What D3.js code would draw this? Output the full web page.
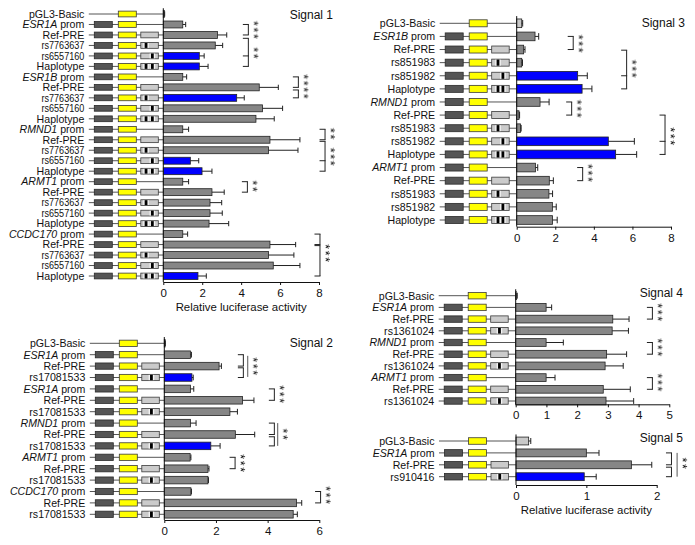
<!DOCTYPE html>
<html><head><meta charset="utf-8">
<script src="https://cdn.jsdelivr.net/npm/d3@7"></script>
<style>
body{margin:0;background:#fff}
svg text{font-family:"Liberation Sans",Arial,Helvetica,sans-serif;fill:#111}
</style>
</head><body>
<svg id="c" width="695" height="545"></svg>
<script>
// ---------------- DATA ----------------
const s1Labels = ["pGL3-Basic","ESR1A prom","Ref-PRE","rs7763637","rs6557160","Haplotype",
  "ESR1B prom","Ref-PRE","rs7763637","rs6557160","Haplotype",
  "RMND1 prom","Ref-PRE","rs7763637","rs6557160","Haplotype",
  "ARMT1 prom","Ref-PRE","rs7763637","rs6557160","Haplotype",
  "CCDC170 prom","Ref-PRE","rs7763637","rs6557160","Haplotype"];
const s1Values = [0.05,1.0,2.78,2.67,1.85,1.85, 1.0,4.93,3.77,5.1,4.76, 1.0,5.48,5.41,1.39,1.99,
  1.0,2.5,2.4,2.4,2.35, 1.0,5.48,5.41,5.65,1.78];
const s1Errors = [0.02,0.15,0.48,0.38,0.25,0.45, 0.2,0.98,0.39,1.03,0.94, 0.3,1.54,1.51,0.43,0.51,
  0.3,0.63,0.6,0.63,1.01, 0.25,1.32,1.3,1.37,0.43];
const s1Colors = ["g","g","g","g","b","b", "g","g","b","g","g", "g","g","g","b","b",
  "g","g","g","g","g", "g","g","g","g","b"];
const s1Ticks = [0,2,4,6,8];

const s2Labels = ["pGL3-Basic","ESR1A prom","Ref-PRE","rs17081533","ESR1A prom","Ref-PRE","rs17081533",
  "RMND1 prom","Ref-PRE","rs17081533","ARMT1 prom","Ref-PRE","rs17081533","CCDC170 prom","Ref-PRE","rs17081533"];
const s2Values = [0.03,1.01,2.12,1.07,1.01,3.03,2.54,1.01,2.75,1.8,1.0,1.69,1.69,1.03,5.12,4.99];
const s2Errors = [0.01,0.04,0.09,0.05,0.13,0.44,0.29,0.22,0.75,0.36,0.03,0.04,0.02,0.02,0.2,0.16];
const s2Colors = ["g","g","g","b","g","g","g","g","g","b","g","g","g","g","g","g"];
const s2Ticks = [0,2,4,6];

const s3Labels = ["pGL3-Basic","ESR1B prom","Ref-PRE","rs851983","rs851982","Haplotype",
  "RMND1 prom","Ref-PRE","rs851983","rs851982","Haplotype",
  "ARMT1 prom","Ref-PRE","rs851983","rs851982","Haplotype"];
const s3Values = [0.26,0.95,0.36,0.26,3.16,3.39,1.21,0.12,0.2,4.75,5.13,0.97,1.69,1.67,1.85,1.86];
const s3Errors = [0.05,0.19,0.07,0.04,0.5,0.51,0.47,0.03,0.03,1.35,1.09,0.12,0.21,0.19,0.2,0.24];
const s3Colors = ["l","g","g","g","b","b","g","g","g","b","b","g","g","g","g","g"];
const s3Ticks = [0,2,4,6,8];

const s4Labels = ["pGL3-Basic","ESR1A prom","Ref-PRE","rs1361024","RMND1 prom","Ref-PRE","rs1361024",
  "ARMT1 prom","Ref-PRE","rs1361024"];
const s4Values = [0.03,0.99,3.16,3.14,0.99,2.96,2.91,0.99,2.85,2.94];
const s4Errors = [0.02,0.18,0.53,0.53,0.56,0.65,0.59,0.29,0.88,0.9];
const s4Colors = ["g","g","g","g","g","g","g","g","g","g"];
const s4Ticks = [0,1,2,3,4,5];

const s5Labels = ["pGL3-Basic","ESR1A prom","Ref-PRE","rs910416"];
const s5Values = [0.18,1.0,1.64,0.97];
const s5Errors = [0.03,0.18,0.29,0.17];
const s5Colors = ["l","g","g","b"];
const s5Ticks = [0,1,2];

// significance brackets: rows [end1, end2, ...middle ticks], at = x value, stars, star row
const s1Sig = [
  {rows:[1,2], at:4.37, stars:3, sr:1.5},
  {rows:[2.32,5,4], at:4.37, stars:2, sr:3.7},
  {rows:[6,7], at:6.94, stars:4, sr:6.9},
  {rows:[7.25,8], at:6.94},
  {rows:[11,12], at:8.31, stars:2, sr:11.4},
  {rows:[12.15,15,14], at:8.31, stars:3, sr:13.6},
  {rows:[16,17], at:4.32, stars:2, sr:16.4},
  {rows:[21,22], at:8.05},
  {rows:[22.1,25], at:8.05, stars:3, sr:22.8}
];
const s2Sig = [
  {rows:[1,2], at:3.06},
  {rows:[2.15,3], at:3.06},
  {rows:[1.1,2.95], at:3.23, line:true, stars:3, sr:2.0},
  {rows:[4,5], at:4.26, stars:3, sr:4.45},
  {rows:[7,8], at:4.26},
  {rows:[8.2,9], at:4.26},
  {rows:[7,9], at:4.39, line:true, stars:2, sr:7.95},
  {rows:[10,11], at:2.74, stars:3, sr:10.5},
  {rows:[13,14], at:6.05, stars:3, sr:13.3}
];
const s3Sig = [
  {rows:[1,2], at:2.93, stars:3, sr:1.54},
  {rows:[2.05,5,4], at:5.7, stars:3, sr:3.45},
  {rows:[6,7], at:2.85, stars:3, sr:6.5},
  {rows:[7,10,9], at:7.69, stars:3, sr:8.6},
  {rows:[11,12], at:3.42, stars:3, sr:11.4}
];
const s4Sig = [
  {rows:[1,2], at:4.45, stars:3, sr:1.4},
  {rows:[4,5], at:4.45, stars:3, sr:4.4},
  {rows:[7,8], at:4.45, stars:3, sr:7.4}
];
const s5Sig = [
  {rows:[1,2], at:2.21},
  {rows:[2.2,3], at:2.21},
  {rows:[1,3], at:2.29, line:true, stars:2, sr:1.85}
];

const snpPos = {rs7763637:0.3, rs6557160:0.66, rs17081533:0.55, rs851983:0.36, rs851982:0.64,
  rs1361024:0.5, rs910416:0.5};

// ---------------- LAYOUT ----------------
const panels = [
  {title:"Signal 1", labels:s1Labels, values:s1Values, errors:s1Errors, colors:s1Colors, ticks:s1Ticks, sig:s1Sig,
   haplo:["rs7763637","rs6557160"], condense:0.89, xlab:true,
   L:{x0:163.3, x1:319, yTop:14, yBot:276, axisY:282, cOff:0, tx:333, ty:19, xlabY:311}},
  {title:"Signal 2", labels:s2Labels, values:s2Values, errors:s2Errors, colors:s2Colors, ticks:s2Ticks, sig:s2Sig,
   haplo:[], xlab:false,
   L:{x0:164.3, x1:319.3, yTop:343.3, yBot:514.3, axisY:520, cOff:0, tx:333, ty:347}},
  {title:"Signal 3", labels:s3Labels, values:s3Values, errors:s3Errors, colors:s3Colors, ticks:s3Ticks, sig:s3Sig,
   haplo:["rs851983","rs851982"], xlab:false,
   L:{x0:516.7, x1:671, yTop:23.3, yBot:220, axisY:226.7, cOff:2.5, tx:685, ty:27}},
  {title:"Signal 4", labels:s4Labels, values:s4Values, errors:s4Errors, colors:s4Colors, ticks:s4Ticks, sig:s4Sig,
   haplo:[], xlab:false,
   L:{x0:515.7, x1:669.3, yTop:295.7, yBot:401, axisY:404.3, cOff:2.5, tx:683, ty:297}},
  {title:"Signal 5", labels:s5Labels, values:s5Values, errors:s5Errors, colors:s5Colors, ticks:s5Ticks, sig:s5Sig,
   haplo:[], xlab:true,
   L:{x0:516, x1:656.7, yTop:441, yBot:476.7, axisY:485, cOff:2.5, tx:683, ty:442, xlabY:514}}
];

const fill = {g:"#868686", b:"#0000ff", l:"#c9c9c9"};
const svg = d3.select("#c");
svg.append("defs").append("filter").attr("id", "gray")
  .append("feColorMatrix").attr("type", "saturate").attr("values", 0);

panels.forEach(p => {
  const L = p.L, n = p.labels.length;
  const xMax = d3.max(p.ticks);
  const x = d3.scaleLinear().domain([0, xMax]).range([L.x0, L.x1]);
  const y = d3.scalePoint().domain(d3.range(n)).range([L.yTop, L.yBot]);
  const yf = d3.scaleLinear().domain([0, n - 1]).range([L.yTop, L.yBot]);
  const step = y.step();
  const g = svg.append("g");

  // constructs
  const c0 = L.x0 - L.cOff;
  const geo = {start:c0-74.5, dark:[c0-69,c0-51], yel:[c0-45,c0-27], lite:[c0-22.5,c0-5]};
  const bxH = Math.min(step*0.55, 7);
  const cg = g.append("g");
  p.labels.forEach((lab, i) => {
    const yc = y(i);
    const type = lab === "pGL3-Basic" ? "basic" : lab.endsWith("prom") ? "prom" : "pre";
    cg.append("line").attr("x1", geo.start).attr("x2", L.x0).attr("y1", yc).attr("y2", yc)
      .attr("stroke", "#555").attr("stroke-width", 1);
    if (type !== "basic")
      cg.append("rect").attr("x", geo.dark[0]).attr("y", yc - bxH/2).attr("width", geo.dark[1]-geo.dark[0])
        .attr("height", bxH).attr("fill", "#555").attr("stroke", "#2a2a2a").attr("stroke-width", 0.8);
    cg.append("rect").attr("x", geo.yel[0]).attr("y", yc - bxH/2).attr("width", geo.yel[1]-geo.yel[0])
      .attr("height", bxH).attr("fill", "#ffff00").attr("stroke", "#3a3a3a").attr("stroke-width", 0.8);
    if (type === "pre") {
      const w = geo.lite[1]-geo.lite[0];
      cg.append("rect").attr("x", geo.lite[0]).attr("y", yc - bxH/2).attr("width", w)
        .attr("height", bxH).attr("fill", "#cbcbcb").attr("stroke", "#3a3a3a").attr("stroke-width", 0.8);
      const snps = lab.startsWith("rs") ? [lab] : lab === "Haplotype" ? p.haplo : [];
      snps.forEach(s => {
        const cx = geo.lite[0] + snpPos[s]*w;
        cg.append("rect").attr("x", cx - 2.8).attr("y", yc - bxH/2 + 0.5).attr("width", 5.6)
          .attr("height", bxH - 1).attr("fill", "#f4f4f4");
        cg.append("rect").attr("x", cx - 1.4).attr("y", yc - bxH/2 + 0.4).attr("width", 2.8)
          .attr("height", bxH - 0.8).attr("fill", "#000");
      });
    }
    // label
    const lx = c0 - 79;
    const t = g.append("text").attr("text-anchor", "end").style("font-size", "10.6px");
    if (p.condense && lab.startsWith("rs")) {
      t.style("font-size", "10.2px")
        .attr("transform", `translate(${lx},${yc}) scale(${p.condense},1)`).attr("x", 0).attr("y", 0)
        .attr("dy", "0.36em").text(lab);
    } else {
      t.attr("x", lx).attr("y", yc).attr("dy", "0.36em");
      if (type === "prom") {
        const gene = lab.replace(" prom", "");
        t.append("tspan").style("font-style", "italic").text(gene);
        t.append("tspan").text(" prom");
      } else t.text(lab);
    }
  });

  // bars
  const bh = step * 0.66;
  g.append("g").selectAll("rect").data(p.values).join("rect")
    .attr("x", L.x0).attr("y", (d, i) => y(i) - bh/2)
    .attr("width", d => x(d) - L.x0).attr("height", bh)
    .attr("fill", (d, i) => fill[p.colors[i]])
    .attr("stroke", "#222").attr("stroke-width", 0.8);
  // error bars
  const eg = g.append("g").attr("stroke", "#222").attr("stroke-width", 1);
  p.values.forEach((v, i) => {
    const yc = y(i), xe = x(v + p.errors[i]);
    eg.append("line").attr("x1", x(v)).attr("x2", xe).attr("y1", yc).attr("y2", yc);
    eg.append("line").attr("x1", xe).attr("x2", xe).attr("y1", yc - bh*0.38).attr("y2", yc + bh*0.38);
  });

  // axes
  g.append("line").attr("x1", L.x0).attr("x2", L.x0).attr("y1", L.yTop - step*0.55).attr("y2", L.axisY)
    .attr("stroke", "#111").attr("stroke-width", 1);
  const ax = g.append("g").attr("transform", `translate(0,${L.axisY})`)
    .call(d3.axisBottom(x).tickValues(p.ticks).tickFormat(d3.format("d")).tickSize(3).tickSizeOuter(0).tickPadding(4));
  ax.select(".domain").attr("stroke", "#111").attr("stroke-width", 1);
  ax.selectAll(".tick line").attr("stroke", "#111");
  ax.selectAll(".tick text").style("font-size", "11.5px").attr("fill", "#111")
    .style("font-family", "'Liberation Sans',Arial,sans-serif");

  if (p.xlab)
    g.append("text").attr("x", (L.x0 + L.x1)/2).attr("y", L.xlabY).attr("text-anchor", "middle")
      .style("font-size", "11.4px").text("Relative luciferase activity");

  g.append("text").attr("x", L.tx).attr("y", L.ty).attr("text-anchor", "end")
    .style("font-size", "12px").text(p.title);

  // significance
  const sg = g.append("g");
  p.sig.forEach(s => {
    const xv = x(s.at);
    const ys = s.rows.map(r => yf(r));
    sg.append("line").attr("x1", xv).attr("x2", xv).attr("y1", ys[0]).attr("y2", ys[1])
      .attr("stroke", s.line ? "#555" : "#222").attr("stroke-width", 1);
    if (!s.line) ys.forEach(yy => {
      sg.append("line").attr("x1", xv - 5.5).attr("x2", xv + 0.5).attr("y1", yy).attr("y2", yy)
        .attr("stroke", "#222").attr("stroke-width", 1);
    });
    if (s.stars) {
      const cx = xv + 9, cy = yf(s.sr);
      sg.append("text")
        .attr("filter", "url(#gray)")
        .attr("transform", `translate(${cx},${cy}) rotate(90)`)
        .attr("x", 1).attr("y", 0).attr("dy", "0.6em")
        .attr("text-anchor", "middle")
        .style("font-size", "12.5px").style("letter-spacing", "1.6px").style("fill", "#000")
        .text("*".repeat(s.stars));
    }
  });
});
</script>
</body></html>
